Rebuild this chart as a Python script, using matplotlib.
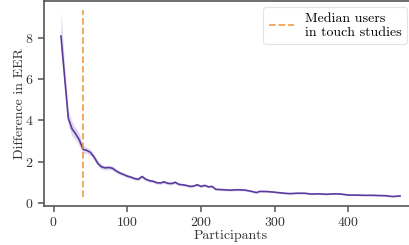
import numpy as np
import matplotlib
matplotlib.use('Agg')
import matplotlib.pyplot as plt

# participants vs. mean EER difference, with band bounds
PARTICIPANTS = [10, 15, 20, 25, 30, 35, 40, 45, 50, 55, 60, 65, 70, 75, 80, 85,
                90, 95, 100, 105, 110, 115, 120, 125, 130, 135, 140, 145, 150,
                155, 160, 165, 170, 175, 180, 185, 190, 195, 200, 205, 210, 215,
                220, 230, 240, 250, 260, 270, 275, 280, 290, 300, 310, 320, 330,
                340, 350, 360, 370, 380, 390, 400, 410, 420, 430, 440, 450, 460,
                470]
EER_DIFF = [8.10, 6.10, 4.10, 3.60, 3.35, 3.05, 2.60, 2.55, 2.45, 2.22, 1.92,
            1.75, 1.70, 1.72, 1.68, 1.55, 1.45, 1.38, 1.30, 1.25, 1.18, 1.15,
            1.28, 1.15, 1.08, 1.05, 0.98, 0.97, 1.02, 0.95, 0.94, 1.00, 0.90,
            0.88, 0.85, 0.80, 0.82, 0.88, 0.80, 0.85, 0.78, 0.80, 0.66, 0.64,
            0.62, 0.64, 0.62, 0.55, 0.50, 0.56, 0.55, 0.52, 0.48, 0.45, 0.47,
            0.47, 0.43, 0.44, 0.42, 0.44, 0.43, 0.38, 0.38, 0.37, 0.37, 0.36,
            0.35, 0.31, 0.34]
BAND_LOW = [7.40, 5.60, 3.70, 3.25, 3.05, 2.75, 2.40, 2.40, 2.30, 2.08, 1.78,
            1.63, 1.59, 1.61, 1.57, 1.45, 1.36, 1.30, 1.22, 1.17, 1.10, 1.07,
            1.20, 1.08, 1.01, 0.98, 0.91, 0.90, 0.95, 0.88, 0.87, 0.93, 0.83,
            0.82, 0.79, 0.74, 0.76, 0.82, 0.74, 0.79, 0.73, 0.75, 0.61, 0.59,
            0.57, 0.59, 0.57, 0.51, 0.46, 0.52, 0.51, 0.48, 0.44, 0.41, 0.43,
            0.43, 0.40, 0.41, 0.39, 0.41, 0.40, 0.35, 0.35, 0.34, 0.34, 0.33,
            0.32, 0.28, 0.31]
BAND_HIGH = [9.35, 6.70, 4.50, 3.95, 3.65, 3.35, 2.80, 2.70, 2.60, 2.36, 2.06,
             1.87, 1.81, 1.83, 1.79, 1.65, 1.54, 1.46, 1.38, 1.33, 1.26, 1.23,
             1.36, 1.22, 1.15, 1.12, 1.05, 1.04, 1.09, 1.02, 1.01, 1.07, 0.97,
             0.94, 0.91, 0.86, 0.88, 0.94, 0.86, 0.91, 0.83, 0.85, 0.71, 0.69,
             0.67, 0.69, 0.67, 0.59, 0.54, 0.60, 0.59, 0.56, 0.52, 0.49, 0.51,
             0.51, 0.46, 0.47, 0.45, 0.47, 0.46, 0.41, 0.41, 0.40, 0.40, 0.39,
             0.38, 0.34, 0.37]
MEDIAN_USERS = 40

plt.rcParams['font.family'] = 'serif'
plt.rcParams['font.serif'] = ['cmr10']
plt.rcParams['axes.formatter.use_mathtext'] = True
plt.rcParams['font.size'] = 10

x = np.array(PARTICIPANTS)
y = np.array(EER_DIFF)

fig = plt.figure(figsize=(4.09, 2.45), dpi=100)
ax = fig.add_axes([44 / 409, 39 / 245, 373 / 409, 205 / 245])

ax.fill_between(x, BAND_LOW, BAND_HIGH, color='#c3b6e2', alpha=0.5, linewidth=0)
ax.plot(x, y, color='#5b3a9e', linewidth=1.2)
ax.vlines(MEDIAN_USERS, min(BAND_LOW), max(BAND_HIGH), colors='#f08c28',
          linestyles='dashed', linewidth=1.3, alpha=0.8,
          label='Median users\nin touch studies')

ax.set_xlim(-13, 493)
ax.set_ylim(-0.15, 9.8)
ax.set_xticks([0, 100, 200, 300, 400])
ax.set_yticks([0, 2, 4, 6, 8])
ax.set_xlabel('Participants', color='#333333', labelpad=0.5)
ax.set_ylabel('Difference in EER', color='#333333', labelpad=-1)

for s in ax.spines.values():
    s.set_color('#555555')
    s.set_linewidth(1.2)
ax.tick_params(colors='#555555', labelcolor='#333333', length=4, width=1.1,
               labelsize=10)

leg = ax.legend(loc='upper right', bbox_to_anchor=(0.973, 0.971), fontsize=10,
                frameon=True, handlelength=1.8, borderpad=0.4,
                borderaxespad=0, labelspacing=0.2)
leg.get_frame().set_edgecolor('#dddddd')
leg.get_frame().set_linewidth(0.8)

fig.savefig('out.png', dpi=100)
